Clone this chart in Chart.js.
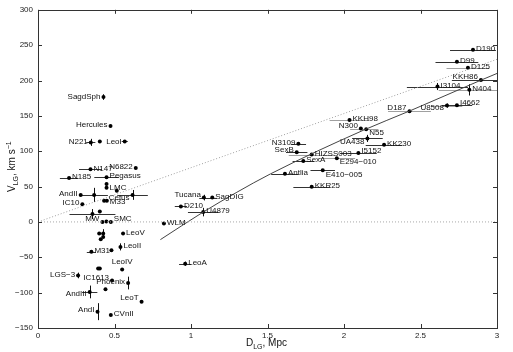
<!DOCTYPE html>
<html><head><meta charset="utf-8">
<script src="https://cdn.jsdelivr.net/npm/chart.js@4/dist/chart.umd.min.js"></script>
<style>html,body{margin:0;padding:0;background:#fff}#wrap{width:513px;height:352px}</style>
</head><body><div id="wrap"><canvas id="c" width="513" height="352"></canvas></div>
<script>
// ---------- data ----------
const names = ["SagdSph","Hercules","N221","","LeoI","N147","N6822","N185","Pegasus","","LMC","",
 "AndII","","Cetus","M33","","IC10","","","MW","","SMC","","","","","LeoV","LeoII","M31","",
 "","","LeoIV","LGS\u22123","IC1613","Phoenix","","AndIII","LeoT","AndI","CVnII",
 "Tucana","SagDIG","D210","U4879","WLM","LeoA",
 "KKH98","N300","N55","UA438","KK230","N3109","SexB","HIZSS003","I5152","SexA","E294\u2212010","Antlia","E410\u2212005","KKR25",
 "D187","U8508","I4662","I3104","N404","KKH86","D125","D99","D190"];
const dist = [0.428,0.474,0.345,0.404,0.567,0.343,0.639,0.203,0.448,0.448,0.448,0.515,
 0.279,0.367,0.618,0.450,0.432,0.290,0.404,0.356,0.421,0.447,0.476,0.400,0.426,0.426,0.410,0.556,0.539,0.349,0.480,
 0.393,0.404,0.550,0.262,0.484,0.589,0.441,0.338,0.677,0.389,0.476,
 1.084,1.139,0.934,1.080,0.823,0.962,
 2.036,2.110,2.145,2.153,2.262,1.702,1.691,1.789,2.094,1.734,1.953,1.614,1.861,1.789,
 2.428,2.673,2.738,2.611,2.819,2.895,2.810,2.738,2.843];
const vel = [176.6,135.8,112.5,113.9,113.9,74.4,76.3,62.3,63.3,53.5,48.4,44.2,
 38.2,38.2,38.2,29.8,29.8,25.1,14.9,11.2,0,0.5,0,-16.2,-16.2,-21.3,-24.6,-16.2,-35.3,-42.2,-39.9,
 -65.9,-65.9,-67.3,-75.7,-82.7,-86.4,-95.2,-99,-112.9,-126.9,-131.5,
 34.4,34.4,21.9,13.9,-2.3,-59,
 144.2,132,131,118.1,109.3,110.7,98.6,95.3,97.6,86,90.2,68.3,73,49.8,
 156.7,164.5,165,191.5,186.8,200.8,218,226.4,243.6];
const distErr = [0,0,0.03,0,0.02,0.075,0,0.06,0.08,0,0,0,
 0,0.09,0.1,0,0,0,0,0.15,0,0,0,0,0,0,0,0,0,0.03,0,
 0,0,0,0,0,0,0,0.05,0,0,0,
 0.03,0.03,0.04,0.1,0,0.04,
 0.13,0.07,0.08,0.1,0.12,0.05,0.07,0.15,0.12,0.07,0.12,0.09,0.08,0.12,
 0.14,0.1,0.1,0.2,0.2,0.19,0.14,0.14,0.15];
const velErr = [4,0,5,0,0,0,0,0,0,0,0,0,
 0,10,7,0,0,0,0,7,0,0,0,0,6,0,0,0,5,0,0,
 0,0,0,4,0,9,0,9,0,12,0,
 4,0,0,6,0,3,
 0,0,0,5,0,0,0,0,0,0,0,0,0,0,
 0,3,0,5,8,0,0,0,0];
const xTicks = [0,0.5,1,1.5,2,2.5,3];
const yTicks = [-150,-100,-50,0,50,100,150,200,250,300];
const fitD = [0.8,1.08,1.3,1.52,2.13,2.43,2.89,3.0];
const fitV = [-25,14,42,68,130,157,200,210];
const hubbleD = [0,3];
const hubbleV = [0,230];
const zeroD = [0,3];
const zeroV = [0,0];

// ---------- styling (not data) ----------
const grayBars = new Set(["KKH98","N300","N55","D187","U8508","N404","D125","E294\u2212010","HIZSS003"]);
const labelPlace = {
 "SagdSph":["l",0],"Hercules":["l",-1],"N221":["l",-1],"LeoI":["l",0],"N6822":["l",-1],
 "AndII":["l",-1],"Cetus":["l",3],"IC10":["l",-1],"MW":["l",-3],"IC1613":["l",-3],"Phoenix":["l",-1],
 "AndIII":["l",2],"LeoT":["l",-4],"AndI":["l",-2],"Tucana":["l",-3],"LGS\u22123":["l",-1],
 "N300":["l",-3],"UA438":["l",3],"N3109":["l",-1],"SexB":["l",-2],"D187":["l",-3],"U8508":["l",2],
 "KKH86":["l",-3],"LeoIV":["c",-8],"SMC":["r",-3],"N55":["r",3],"HIZSS003":["r",-1],"I5152":["r",-2],
 "SexA":["r",-1],"E294\u2212010":["r",4],"E410\u2212005":["r",4],"I4662":["r",-2],"LMC":["r",0],"M33":["r",1]
};
const FONT = '"Liberation Sans", Arial, sans-serif';

const extras = {
 id:'extras',
 beforeDatasetsDraw(chart){
  const {ctx, chartArea:a, scales:{x,y}} = chart;
  ctx.save();
  ctx.beginPath(); ctx.rect(a.left,a.top,a.right-a.left,a.bottom-a.top); ctx.clip();
  ctx.lineWidth = 1;
  for(let i=0;i<dist.length;i++){
   const px = x.getPixelForValue(dist[i]), py = y.getPixelForValue(vel[i]);
   if(distErr[i]>0){
    ctx.strokeStyle = grayBars.has(names[i]) ? '#a0a0a0' : '#333';
    ctx.beginPath();
    ctx.moveTo(x.getPixelForValue(dist[i]-distErr[i]), Math.round(py)+0.5);
    ctx.lineTo(x.getPixelForValue(dist[i]+distErr[i]), Math.round(py)+0.5);
    ctx.stroke();
   }
   if(velErr[i]>0){
    ctx.strokeStyle = '#111';
    ctx.beginPath();
    ctx.moveTo(Math.round(px)+0.5, y.getPixelForValue(vel[i]-velErr[i]));
    ctx.lineTo(Math.round(px)+0.5, y.getPixelForValue(vel[i]+velErr[i]));
    ctx.stroke();
   }
  }
  ctx.restore();
 },
 afterDraw(chart){
  const {ctx, chartArea:a, scales:{x,y}} = chart;
  ctx.save();
  ctx.strokeStyle = '#333'; ctx.lineWidth = 1;
  ctx.strokeRect(Math.round(a.left)+0.5, Math.round(a.top)+0.5, Math.round(a.right-a.left), Math.round(a.bottom-a.top));
  ctx.beginPath();
  xTicks.forEach(v=>{ const p=Math.round(x.getPixelForValue(v))+0.5;
   ctx.moveTo(p,a.bottom); ctx.lineTo(p,a.bottom-4); ctx.moveTo(p,a.top); ctx.lineTo(p,a.top+4); });
  yTicks.forEach(v=>{ const p=Math.round(y.getPixelForValue(v))+0.5;
   ctx.moveTo(a.left,p); ctx.lineTo(a.left+4,p); ctx.moveTo(a.right,p); ctx.lineTo(a.right-4,p); });
  ctx.stroke();
  ctx.fillStyle = '#111'; ctx.font = '8px '+FONT; ctx.textBaseline = 'middle';
  for(let i=0;i<dist.length;i++){
   if(!names[i]) continue;
   const px = x.getPixelForValue(dist[i]), py = y.getPixelForValue(vel[i]);
   const pl = labelPlace[names[i]] || ["r",-1];
   if(pl[0]==='l'){ ctx.textAlign='right'; ctx.fillText(names[i], px-3, py+pl[1]); }
   else if(pl[0]==='c'){ ctx.textAlign='center'; ctx.fillText(names[i], px, py+pl[1]); }
   else { ctx.textAlign='left'; ctx.fillText(names[i], px+3, py+pl[1]); }
  }
  ctx.textBaseline='alphabetic'; ctx.textAlign='left'; ctx.fillStyle='#111';
  let tx = 246, ty = 346;
  ctx.font='10px '+FONT; ctx.fillText('D', tx, ty); tx += ctx.measureText('D').width;
  ctx.font='7px '+FONT; ctx.fillText('LG', tx, ty+3); tx += ctx.measureText('LG').width;
  ctx.font='10px '+FONT; ctx.fillText(', Mpc', tx, ty);
  ctx.translate(15, 192); ctx.rotate(-Math.PI/2);
  tx = 0;
  ctx.font='10px '+FONT; ctx.fillText('V', tx, 0); tx += ctx.measureText('V').width;
  ctx.font='7px '+FONT; ctx.fillText('LG', tx, 3); tx += ctx.measureText('LG').width;
  ctx.font='10px '+FONT; ctx.fillText(', km s', tx, 0); tx += ctx.measureText(', km s').width;
  ctx.font='7px '+FONT; ctx.fillText('\u22121', tx, -4);
  ctx.restore();
 }
};

const pts = dist.map((d,i)=>({x:d, y:vel[i]}));
new Chart(document.getElementById('c'), {
 type:'scatter',
 data:{ datasets:[
  {data: zeroD.map((d,i)=>({x:d,y:zeroV[i]})), showLine:true, borderColor:'#a8a8a8', borderWidth:1, borderDash:[1,2], pointRadius:0},
  {data: hubbleD.map((d,i)=>({x:d,y:hubbleV[i]})), showLine:true, borderColor:'#a0a0a0', borderWidth:1, borderDash:[1,2], pointRadius:0},
  {data: fitD.map((d,i)=>({x:d,y:fitV[i]})), showLine:true, borderColor:'#444', borderWidth:1, pointRadius:0, cubicInterpolationMode:'monotone'},
  {data: pts, pointRadius:2, pointBackgroundColor:'#000', pointBorderColor:'#000', pointBorderWidth:0}
 ]},
 options:{
  responsive:false, animation:false, devicePixelRatio:1,
  layout:{padding:{left:0,right:16,top:5,bottom:0}},
  plugins:{legend:{display:false}, tooltip:{enabled:false}},
  scales:{
   x:{type:'linear', min:0, max:3, afterFit:s=>{s.height=24;},
      afterBuildTicks:s=>{s.ticks=xTicks.map(v=>({value:v}));},
      ticks:{font:{size:8,family:FONT}, color:'#222', padding:3, maxRotation:0, callback:v=>String(v)},
      grid:{display:false, drawTicks:false}, border:{display:false}},
   y:{type:'linear', min:-150, max:300, afterFit:s=>{s.width=38;},
      afterBuildTicks:s=>{s.ticks=yTicks.map(v=>({value:v}));},
      ticks:{font:{size:8,family:FONT}, color:'#222', padding:5, callback:v=>String(v).replace('-','\u2212')},
      grid:{display:false, drawTicks:false}, border:{display:false}}
  }
 },
 plugins:[extras]
});
</script></body></html>
